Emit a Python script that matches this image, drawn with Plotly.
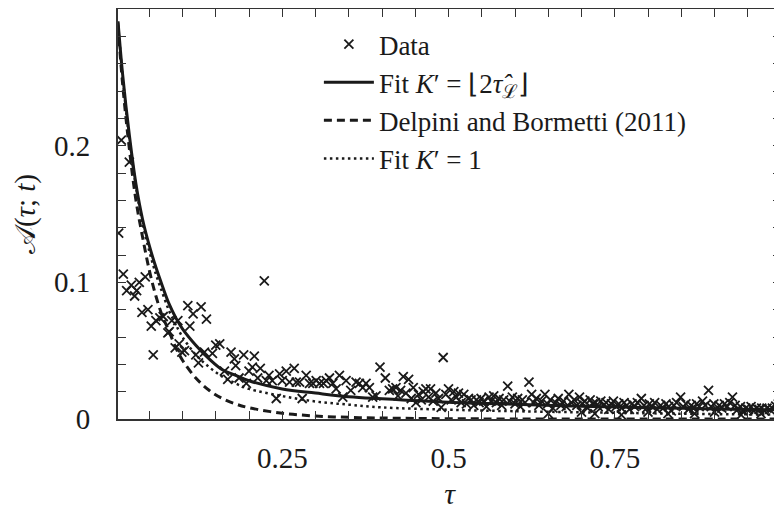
import plotly.graph_objects as go

# Data points (tau, A)
DATA_TAU = [
    0.004, 0.008, 0.011, 0.016, 0.020, 0.023, 0.028, 0.031, 0.035, 0.039,
    0.044, 0.048, 0.053, 0.056, 0.060, 0.066, 0.071, 0.078, 0.080, 0.084,
    0.089, 0.093, 0.095, 0.099, 0.103, 0.108, 0.111, 0.116, 0.120, 0.124,
    0.128, 0.133, 0.136, 0.145, 0.150, 0.156, 0.163, 0.168, 0.173, 0.178,
    0.180, 0.185, 0.192, 0.196, 0.200, 0.205, 0.208, 0.213, 0.217, 0.223,
    0.226, 0.230, 0.235, 0.241, 0.246, 0.250, 0.256, 0.261, 0.268, 0.271,
    0.276, 0.280, 0.286, 0.291, 0.296, 0.301, 0.306, 0.312, 0.316, 0.321,
    0.326, 0.331, 0.336, 0.341, 0.346, 0.353, 0.361, 0.366, 0.371, 0.376,
    0.381, 0.386, 0.391, 0.397, 0.405, 0.411, 0.416, 0.421,
    0.424, 0.428, 0.432, 0.436, 0.440, 0.444, 0.447, 0.451, 0.455, 0.459,
    0.462, 0.466, 0.470, 0.473, 0.477, 0.481, 0.485, 0.489, 0.492, 0.496,
    0.500, 0.504, 0.508, 0.512, 0.515, 0.519, 0.523, 0.527, 0.530, 0.534,
    0.538, 0.542, 0.546, 0.549, 0.553, 0.557, 0.561, 0.564, 0.568, 0.572,
    0.576, 0.580, 0.583, 0.589, 0.592, 0.596, 0.600, 0.604, 0.608, 0.611,
    0.615, 0.621, 0.625, 0.628, 0.632, 0.636, 0.640, 0.645, 0.649, 0.650,
    0.653, 0.657, 0.661, 0.665, 0.669, 0.673, 0.677, 0.681, 0.685, 0.689,
    0.693, 0.697, 0.700, 0.701, 0.705, 0.709, 0.713, 0.717, 0.720, 0.721,
    0.725, 0.729, 0.733, 0.737, 0.741, 0.745, 0.748, 0.752, 0.756, 0.760,
    0.760, 0.764, 0.768, 0.772, 0.776, 0.780, 0.784, 0.790, 0.794, 0.798,
    0.800, 0.802, 0.806, 0.810, 0.814, 0.819, 0.823, 0.827, 0.830, 0.831,
    0.835, 0.839, 0.843, 0.849, 0.853, 0.857, 0.861, 0.865, 0.869, 0.870,
    0.873, 0.877, 0.882, 0.886, 0.891, 0.895, 0.899, 0.900, 0.903, 0.907,
    0.911, 0.915, 0.919, 0.923, 0.927, 0.931, 0.935, 0.939, 0.940, 0.943,
    0.947, 0.951, 0.955, 0.959, 0.963, 0.967, 0.970, 0.971, 0.975, 0.979,
    0.983, 0.987, 0.992, 0.996,
]
DATA_A = [
    0.136, 0.204, 0.106, 0.094, 0.188, 0.098, 0.090, 0.094, 0.100, 0.078,
    0.104, 0.080, 0.068, 0.047, 0.072, 0.074, 0.075, 0.063, 0.064, 0.072,
    0.052, 0.072, 0.055, 0.049, 0.050, 0.083, 0.068, 0.077, 0.047, 0.041,
    0.082, 0.049, 0.073, 0.048, 0.054, 0.055, 0.035, 0.029, 0.049, 0.044,
    0.039, 0.030, 0.047, 0.026, 0.035, 0.038, 0.046, 0.030, 0.037, 0.101,
    0.028, 0.032, 0.028, 0.015, 0.033, 0.028, 0.035, 0.027, 0.037, 0.027,
    0.027, 0.015, 0.032, 0.026, 0.026, 0.028, 0.026, 0.026, 0.028, 0.030,
    0.026, 0.022, 0.032, 0.016, 0.028, 0.021, 0.027, 0.026, 0.023, 0.026,
    0.023, 0.016, 0.017, 0.038, 0.030, 0.021, 0.022, 0.023,
    0.017, 0.021, 0.031, 0.019, 0.029, 0.015, 0.023, 0.012, 0.018, 0.014,
    0.020, 0.022, 0.016, 0.022, 0.013, 0.019, 0.015, 0.0085, 0.045, 0.018,
    0.022, 0.014, 0.020, 0.016, 0.019, 0.012, 0.018, 0.011, 0.015, 0.014,
    0.010, 0.014, 0.012, 0.015, 0.013, 0.009, 0.016, 0.013, 0.017, 0.012,
    0.015, 0.010, 0.014, 0.024, 0.013, 0.016, 0.011, 0.015, 0.009, 0.014,
    0.012, 0.027, 0.018, 0.012, 0.015, 0.010, 0.013, 0.018, 0.011, 0.004,
    0.014, 0.008, 0.012, 0.015, 0.010, 0.013, 0.009, 0.018, 0.012, 0.014,
    0.010, 0.016, 0.005, 0.011, 0.013, 0.008, 0.014, 0.011, 0.004, 0.012,
    0.009, 0.013, 0.010, 0.012, 0.007, 0.011, 0.013, 0.009, 0.011, 0.008,
    0.003, 0.012, 0.010, 0.007, 0.011, 0.009, 0.012, 0.015, 0.010, 0.008,
    0.005, 0.011, 0.009, 0.012, 0.007, 0.010, 0.008, 0.011, 0.004, 0.009,
    0.006, 0.010, 0.012, 0.016, 0.009, 0.011, 0.007, 0.010, 0.008, 0.004,
    0.011, 0.009, 0.013, 0.010, 0.021, 0.009, 0.011, 0.005, 0.007, 0.010,
    0.008, 0.011, 0.009, 0.012, 0.016, 0.010, 0.007, 0.009, 0.003, 0.006,
    0.008, 0.007, 0.009, 0.006, 0.008, 0.007, 0.004, 0.008, 0.006, 0.008,
    0.007, 0.008, 0.0095, 0.011,
]

# Fit K' = floor(2 tau_L)
FIT_TAU = [0.003, 0.01, 0.02, 0.03, 0.04, 0.05, 0.06, 0.07, 0.08, 0.09, 0.10,
           0.12, 0.14, 0.16, 0.18, 0.20, 0.25, 0.30, 0.35, 0.40, 0.50, 0.60,
           0.70, 0.80, 0.90, 1.00]
FIT_A = [0.291, 0.252, 0.208, 0.172, 0.146, 0.127, 0.111, 0.097, 0.084, 0.074,
         0.066, 0.054, 0.044, 0.036, 0.032, 0.028, 0.022, 0.019, 0.0163, 0.0148,
         0.0123, 0.0108, 0.0094, 0.0083, 0.0074, 0.0066]

# Delpini and Bormetti (2011)
DB_TAU = [0.003, 0.01, 0.02, 0.03, 0.04, 0.05, 0.06, 0.07, 0.08, 0.09, 0.10,
          0.12, 0.14, 0.16, 0.18, 0.20, 0.25, 0.30, 0.35, 0.40, 0.50, 0.70, 1.00]
DB_A = [0.288, 0.245, 0.198, 0.160, 0.133, 0.109, 0.090, 0.075, 0.064, 0.052,
        0.043, 0.030, 0.021, 0.015, 0.011, 0.0082, 0.0042, 0.0022, 0.0012,
        0.0007, 0.0002, 0.0, 0.0]

# Fit K' = 1
FIT1_TAU = [0.003, 0.01, 0.02, 0.03, 0.04, 0.05, 0.06, 0.07, 0.08, 0.09, 0.10,
            0.12, 0.14, 0.16, 0.18, 0.20, 0.25, 0.30, 0.35, 0.40, 0.50, 0.60,
            0.70, 0.80, 0.90, 1.00]
FIT1_A = [0.290, 0.250, 0.205, 0.170, 0.143, 0.123, 0.106, 0.092, 0.079, 0.069,
          0.060, 0.047, 0.038, 0.031, 0.026, 0.022, 0.0168, 0.0128, 0.0105,
          0.0085, 0.0068, 0.0057, 0.0049, 0.0042, 0.0036, 0.0032]

X_TICKS = [0.05, 0.10, 0.15, 0.20, 0.25, 0.30, 0.35, 0.40, 0.45, 0.50,
           0.55, 0.60, 0.65, 0.70, 0.75, 0.80, 0.85, 0.90, 0.95, 1.00]
X_LABELS = ['', '', '', '', '0.25', '', '', '', '', '0.5',
            '', '', '', '', '0.75', '', '', '', '', '1']
Y_TICKS = [0.0, 0.02, 0.04, 0.06, 0.08, 0.1, 0.12, 0.14, 0.16, 0.18, 0.2,
           0.22, 0.24, 0.26, 0.28, 0.30]
Y_LABELS = ['0', '', '', '', '', '0.1', '', '', '', '', '0.2',
            '', '', '', '', '']

INK = '#1a1a1a'
FONT = 'Liberation Serif'

fig = go.Figure()

fig.add_trace(go.Scatter(
    x=DATA_TAU, y=DATA_A, mode='markers', name='Data',
    marker=dict(symbol='x-thin', size=9, line=dict(width=1.8, color=INK), color=INK),
))
fig.add_trace(go.Scatter(
    x=FIT_TAU, y=FIT_A, mode='lines', line_shape='spline',
    name="Fit <i>K</i>′ = ⌊2<i>τ̂</i><sub>ℒ</sub>⌋",
    line=dict(color=INK, width=3),
))
fig.add_trace(go.Scatter(
    x=DB_TAU, y=DB_A, mode='lines', line_shape='spline',
    name='Delpini and Bormetti (2011)',
    line=dict(color=INK, width=3, dash='8px,5px'),
))
fig.add_trace(go.Scatter(
    x=FIT1_TAU, y=FIT1_A, mode='lines', line_shape='spline',
    name="Fit <i>K</i>′ = 1",
    line=dict(color=INK, width=2.5, dash='2.5px,3.5px'),
))

axis_common = dict(
    showline=True, mirror='ticks', linecolor='#333', linewidth=2,
    ticks='inside', ticklen=8, tickwidth=1.3, tickcolor='#333',
    showgrid=False, zeroline=False, automargin=False,
    ticklabeloverflow='allow',
    tickfont=dict(family=FONT, size=29, color=INK),
)

fig.update_xaxes(
    range=[0.003, 1.0], tickmode='array', tickvals=X_TICKS, ticktext=X_LABELS,
    ticklabelstandoff=12,
    title=dict(text='<i>τ</i>', font=dict(family=FONT, size=30, color=INK), standoff=10),
    **axis_common,
)
fig.update_yaxes(
    range=[0, 0.3], tickmode='array', tickvals=Y_TICKS, ticktext=Y_LABELS,
    ticklabelstandoff=20,
    title=dict(text='𝒜(<i>τ</i>; <i>t</i>)', font=dict(family=FONT, size=29, color=INK), standoff=10),
    **axis_common,
)

# the page body adds an 8px offset, margins compensate for it
fig.update_layout(
    width=782, height=508,
    margin=dict(l=110, r=9, t=1, b=97),
    plot_bgcolor='white', paper_bgcolor='white',
    font=dict(family=FONT, color=INK),
    legend=dict(
        x=0.303, y=0.973, xanchor='left', yanchor='top', itemwidth=50,
        bgcolor='rgba(0,0,0,0)', font=dict(family=FONT, size=27, color=INK),
    ),
)

fig.write_html("out.html")
